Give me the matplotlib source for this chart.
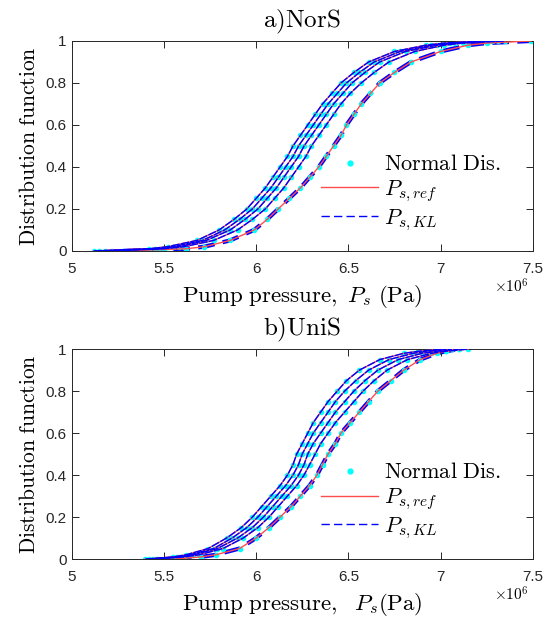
import matplotlib
matplotlib.use("Agg")
import matplotlib.pyplot as plt

plt.rcParams['mathtext.fontset'] = 'cm'
plt.rcParams['font.family'] = ['Liberation Sans', 'DejaVu Sans']

# cumulative probability levels (shared by all curves)
F_LEVELS = [0, 0.01, 0.02, 0.05, 0.1, 0.15, 0.2, 0.25, 0.3, 0.35, 0.4, 0.45, 0.5,
            0.55, 0.6, 0.65, 0.7, 0.75, 0.8, 0.85, 0.9, 0.95, 0.98, 0.99, 1.0]

# pump pressure (x 1e6 Pa) at each level, panel a) NorS
NORS_1 = [5.12, 5.42, 5.52, 5.68, 5.80, 5.88, 5.95, 6.00, 6.05, 6.09, 6.13, 6.17, 6.20,
          6.24, 6.28, 6.32, 6.36, 6.41, 6.46, 6.53, 6.61, 6.75, 6.92, 7.02, 7.25]
NORS_2 = [5.15, 5.45, 5.55, 5.71, 5.83, 5.91, 5.98, 6.03, 6.08, 6.12, 6.16, 6.20, 6.23,
          6.27, 6.31, 6.35, 6.39, 6.44, 6.49, 6.56, 6.64, 6.78, 6.95, 7.05, 7.28]
NORS_3 = [5.18, 5.48, 5.58, 5.73, 5.86, 5.94, 6.01, 6.06, 6.11, 6.15, 6.19, 6.23, 6.26,
          6.30, 6.34, 6.38, 6.42, 6.47, 6.52, 6.59, 6.67, 6.81, 6.98, 7.08, 7.31]
NORS_4 = [5.22, 5.50, 5.61, 5.77, 5.90, 5.98, 6.05, 6.10, 6.15, 6.19, 6.23, 6.27, 6.30,
          6.34, 6.38, 6.42, 6.46, 6.51, 6.57, 6.64, 6.72, 6.86, 7.02, 7.12, 7.35]
NORS_5 = [5.28, 5.62, 5.72, 5.86, 5.99, 6.06, 6.12, 6.18, 6.24, 6.29, 6.34, 6.38, 6.42,
          6.46, 6.49, 6.53, 6.57, 6.62, 6.67, 6.75, 6.84, 7.00, 7.15, 7.25, 7.49]

# panel b) UniS
UNIS_1 = [5.40, 5.55, 5.62, 5.74, 5.84, 5.92, 5.98, 6.03, 6.08, 6.13, 6.17, 6.20, 6.22,
          6.25, 6.28, 6.31, 6.35, 6.39, 6.44, 6.49, 6.56, 6.67, 6.80, 6.88, 7.02]
UNIS_2 = [5.42, 5.57, 5.64, 5.77, 5.87, 5.95, 6.01, 6.06, 6.11, 6.16, 6.20, 6.23, 6.25,
          6.28, 6.31, 6.35, 6.39, 6.43, 6.48, 6.54, 6.61, 6.72, 6.85, 6.93, 7.06]
UNIS_3 = [5.44, 5.59, 5.66, 5.79, 5.90, 5.98, 6.04, 6.09, 6.14, 6.19, 6.23, 6.26, 6.28,
          6.31, 6.35, 6.39, 6.43, 6.48, 6.53, 6.59, 6.66, 6.77, 6.90, 6.98, 7.10]
UNIS_4 = [5.46, 5.61, 5.69, 5.82, 5.93, 6.01, 6.07, 6.12, 6.17, 6.22, 6.26, 6.29, 6.32,
          6.35, 6.39, 6.43, 6.48, 6.53, 6.58, 6.64, 6.71, 6.82, 6.95, 7.03, 7.15]
UNIS_5 = [5.56, 5.70, 5.78, 5.91, 6.00, 6.07, 6.13, 6.19, 6.24, 6.29, 6.33, 6.36, 6.39,
          6.43, 6.46, 6.51, 6.56, 6.61, 6.66, 6.73, 6.80, 6.89, 6.98, 7.03, 7.10]

X_TICKS = [5, 5.5, 6, 6.5, 7, 7.5]
X_LABELS = ['5', '5.5', '6', '6.5', '7', '7.5']
Y_TICKS = [0, 0.2, 0.4, 0.6, 0.8, 1]
Y_LABELS = ['0', '0.2', '0.4', '0.6', '0.8', '1']

LEGEND = [r'$\mathrm{Normal\ Dis.}$', r'$P_{s,ref}$', r'$P_{s,KL}$']

fig = plt.figure(figsize=(5.47, 6.21), dpi=100)
ax1 = fig.add_axes([0.131, 0.596, 0.843, 0.338])
ax2 = fig.add_axes([0.131, 0.0998, 0.843, 0.338])


def draw_panel(ax, curves, title, xlabel):
    for i, xs in enumerate(curves):
        thick = (i == len(curves) - 1)
        ax.plot(xs, F_LEVELS, '.', color='cyan', ms=6, zorder=2)
        ax.plot(xs, F_LEVELS, '-', color=(1, 0.3, 0.3), lw=1.0, zorder=3)
        ax.plot(xs, F_LEVELS, '--', color='blue', lw=3.0 if thick else 1.0,
                dashes=(4, 2) if thick else (6, 1), zorder=1 if thick else 4)
    ax.set_xlim(5, 7.5)
    ax.set_ylim(0, 1)
    ax.set_xticks(X_TICKS)
    ax.set_xticklabels(X_LABELS)
    ax.set_yticks(Y_TICKS)
    ax.set_yticklabels(Y_LABELS)
    ax.tick_params(direction='in', top=True, right=True, length=5, width=0.7,
                   labelsize=11, colors='#262626')
    ax.tick_params(axis='x', pad=8)
    for s in ax.spines.values():
        s.set_linewidth(0.7)
        s.set_color('#262626')
    ax.set_title(title, fontsize=18, pad=10)
    ax.set_xlabel(xlabel, fontsize=16.5, labelpad=5)
    ax.set_ylabel(r'$\mathrm{Distribution\ function}$', fontsize=15.5, labelpad=4)
    ax.text(0.915, -0.125, r'$\times10^6$', transform=ax.transAxes, fontsize=11,
            family='DejaVu Sans', ha='left', va='top')
    leg_h = [plt.Line2D([], [], ls='none', marker='.', color='cyan', ms=7),
             plt.Line2D([], [], color=(1, 0.3, 0.3), lw=1.0),
             plt.Line2D([], [], color='blue', lw=1.0, ls='--', dashes=(6, 3))]
    ax.legend(leg_h, LEGEND, loc='upper left', bbox_to_anchor=(0.54, 0.46),
              frameon=False, fontsize=16, handlelength=2.6, handletextpad=0.25,
              labelspacing=0.15, borderaxespad=0, borderpad=0)


draw_panel(ax1, [NORS_1, NORS_2, NORS_3, NORS_4, NORS_5], r'$\mathrm{a)NorS}$',
           r'$\mathrm{Pump\ pressure,}\ P_s\ \mathrm{(Pa)}$')
draw_panel(ax2, [UNIS_1, UNIS_2, UNIS_3, UNIS_4, UNIS_5], r'$\mathrm{b)UniS}$',
           r'$\mathrm{Pump\ pressure,}\ \ P_s\mathrm{(Pa)}$')

fig.savefig('out.png', dpi=100)
